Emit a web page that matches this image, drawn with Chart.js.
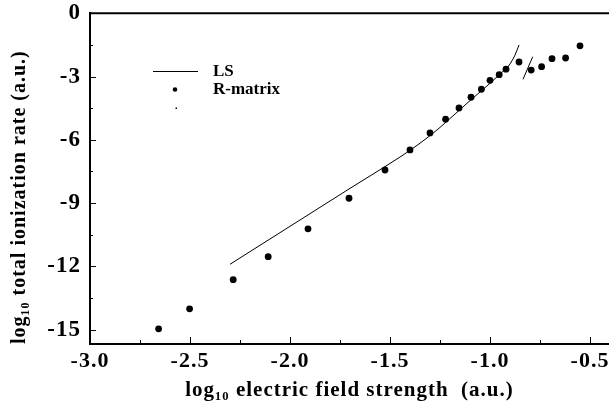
<!DOCTYPE html>
<html>
<head>
<meta charset="utf-8">
<script src="https://cdn.jsdelivr.net/npm/chart.js"></script>
<style>
  html, body { margin: 0; padding: 0; background: #fff; }
</style>
</head>
<body>
<canvas id="chart" width="609" height="406"></canvas>
<script>
  // Tick labels
  const xTicks = [-3.0, -2.5, -2.0, -1.5, -1.0, -0.5];
  const yTicks = [0, -3, -6, -9, -12, -15];

  // LS curve
  const lsX = [-2.30, -2.00, -1.70, -1.50, -1.40, -1.35, -1.30, -1.25, -1.20, -1.10, -1.00, -0.95, -0.91, -0.89, -0.875, -0.855];
  const lsY = [-11.90, -10.10, -8.30, -7.12, -6.50, -6.16, -5.80, -5.41, -4.99, -4.14, -3.32, -2.88, -2.53, -2.25, -1.98, -1.50];

  // short second LS branch
  const segX = [-0.835, -0.7865];
  const segY = [-3.13, -2.06];

  // R-matrix points
  const rmX = [-2.657, -2.502, -2.284, -2.109, -1.910, -1.705, -1.525, -1.400, -1.300, -1.222, -1.155,
               -1.095, -1.043, -1.000, -0.954, -0.920, -0.855, -0.794, -0.742, -0.690, -0.622, -0.550];
  const rmY = [-14.96, -14.01, -12.63, -11.54, -10.22, -8.77, -7.43, -6.48, -5.67, -5.02, -4.49,
               -3.98, -3.60, -3.18, -2.91, -2.65, -2.31, -2.69, -2.53, -2.15, -2.12, -1.54];

  const seriesNames = ['LS', 'R-matrix', ''];

  const serif = '"Liberation Serif", "Times New Roman", serif';

  function pts(xs, ys) {
    return xs.map((x, i) => ({ x: x, y: ys[i] }));
  }

  // inward ticks, top frame line and the legend inside the plot
  const framePlugin = {
    id: 'frame',
    beforeDraw(chart) {
      chart.ctx.letterSpacing = '1px';
    },
    afterDraw(chart) {
      const ctx = chart.ctx;
      const a = chart.chartArea;
      const sx = chart.scales.x;
      const sy = chart.scales.y;
      ctx.save();
      ctx.letterSpacing = '0px';
      ctx.strokeStyle = '#000';
      ctx.lineWidth = 2;
      ctx.beginPath();
      ctx.moveTo(a.left - 1, a.top);
      ctx.lineTo(a.right, a.top);
      ctx.stroke();

      ctx.lineWidth = 1;
      ctx.beginPath();
      xTicks.forEach(v => {
        const p = Math.round(sx.getPixelForValue(v)) + 0.5;
        ctx.moveTo(p, a.bottom);
        ctx.lineTo(p, a.bottom - 7);
        const mv = v + 0.25;
        if (mv < sx.max) {
          const m = Math.round(sx.getPixelForValue(mv)) + 0.5;
          ctx.moveTo(m, a.bottom);
          ctx.lineTo(m, a.bottom - 4);
        }
      });
      yTicks.forEach(v => {
        const p = Math.round(sy.getPixelForValue(v)) + 0.5;
        ctx.moveTo(a.left, p);
        ctx.lineTo(a.left + 6, p);
        const mv = v - 1.5;
        if (mv > sy.min) {
          const m = Math.round(sy.getPixelForValue(mv)) + 0.5;
          ctx.moveTo(a.left, m);
          ctx.lineTo(a.left + 3, m);
        }
      });
      ctx.stroke();

      // legend
      ctx.fillStyle = '#000';
      ctx.font = 'bold 17px ' + serif;
      ctx.textBaseline = 'middle';
      ctx.textAlign = 'left';
      ctx.beginPath();
      ctx.moveTo(153, 71.5);
      ctx.lineTo(198, 71.5);
      ctx.stroke();
      ctx.fillText(seriesNames[0], 213, 72);
      ctx.beginPath();
      ctx.arc(175, 89.5, 2.3, 0, Math.PI * 2);
      ctx.fill();
      ctx.fillText(seriesNames[1], 213, 90);
      ctx.fillRect(175.5, 107.5, 1.5, 1.5);
      ctx.fillText(seriesNames[2], 213, 108);
      ctx.restore();
    }
  };

  new Chart(document.getElementById('chart'), {
    type: 'scatter',
    data: {
      datasets: [
        {
          label: seriesNames[0],
          data: pts(lsX, lsY),
          showLine: true,
          borderColor: '#000',
          borderWidth: 1,
          pointRadius: 0,
          cubicInterpolationMode: 'monotone'
        },
        {
          label: seriesNames[1],
          data: pts(rmX, rmY),
          showLine: false,
          backgroundColor: '#000',
          borderColor: '#000',
          pointRadius: 3.4,
          borderWidth: 0
        },
        {
          label: seriesNames[2],
          data: pts(segX, segY),
          showLine: true,
          borderColor: '#000',
          borderWidth: 1,
          pointRadius: 0
        }
      ]
    },
    options: {
      responsive: false,
      animation: false,
      devicePixelRatio: 1,
      layout: { padding: 0, autoPadding: false },
      plugins: {
        legend: { display: false },
        tooltip: { enabled: false }
      },
      scales: {
        x: {
          type: 'linear',
          min: -3,
          max: -0.405,
          afterBuildTicks: s => { s.ticks = xTicks.map(v => ({ value: v })); },
          afterFit: s => { s.height = 62; s.paddingRight = 0; },
          grid: { display: false, drawTicks: false },
          border: { display: true, color: '#000', width: 2 },
          ticks: {
            padding: 4,
            color: '#000',
            autoSkip: false,
            maxRotation: 0,
            font: { family: serif, size: 22, weight: 'bold' },
            callback: v => Number(v).toFixed(1)
          },
          title: {
            display: true,
            text: 'log₁₀ electric field strength  (a.u.)',
            color: '#000',
            font: { family: serif, size: 21, weight: 'bold' },
            padding: { top: 0, bottom: 3 }
          }
        },
        y: {
          type: 'linear',
          min: -15.68,
          max: 0,
          afterBuildTicks: s => { s.ticks = yTicks.map(v => ({ value: v })); },
          afterFit: s => { s.width = 90; s.paddingTop = 13.3; s.paddingBottom = 0; },
          grid: { display: false, drawTicks: false },
          border: { display: true, color: '#000', width: 2 },
          ticks: {
            padding: 9,
            color: '#000',
            autoSkip: false,
            font: { family: serif, size: 23, weight: 'bold' },
            callback: v => String(v)
          },
          title: {
            display: true,
            align: 'start',
            text: 'log₁₀ total ionization rate (a.u.)',
            color: '#000',
            font: { family: serif, size: 20, weight: 'bold' },
            padding: { top: 8, bottom: 0 }
          }
        }
      }
    },
    plugins: [framePlugin]
  });
</script>
</body>
</html>
